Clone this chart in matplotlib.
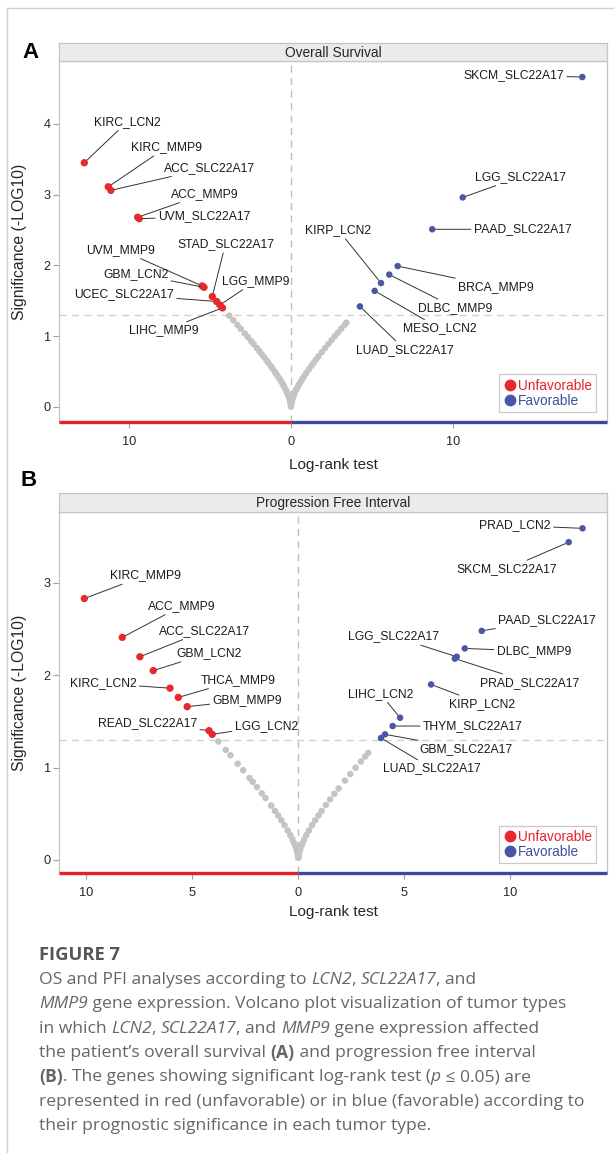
import numpy as np
import matplotlib.pyplot as plt
from matplotlib.lines import Line2D
from matplotlib.ticker import FuncFormatter

# ---------------- Panel A : Overall Survival ----------------
os_unfav_names = ['KIRC_LCN2', 'KIRC_MMP9', 'ACC_SLC22A17', 'ACC_MMP9', 'UVM_SLC22A17',
                  'UVM_MMP9', 'GBM_LCN2', 'STAD_SLC22A17', 'UCEC_SLC22A17', 'LGG_MMP9', 'LIHC_MMP9']
os_unfav_x = [-12.74, -11.26, -11.10, -9.45, -9.35, -5.47, -5.36, -4.85, -4.58, -4.38, -4.22]
os_unfav_y = [3.45, 3.11, 3.06, 2.68, 2.66, 1.71, 1.69, 1.56, 1.49, 1.44, 1.40]

os_fav_names = ['SKCM_SLC22A17', 'LGG_SLC22A17', 'PAAD_SLC22A17', 'BRCA_MMP9', 'DLBC_MMP9',
                'KIRP_LCN2', 'MESO_LCN2', 'LUAD_SLC22A17']
os_fav_x = [17.96, 10.59, 8.71, 6.58, 6.06, 5.55, 5.16, 4.25]
os_fav_y = [4.66, 2.96, 2.51, 1.99, 1.87, 1.75, 1.64, 1.42]

os_ns_x = [-3.8, -3.55, -3.3, -3.1, -2.85, -2.65, -2.45, -2.3, -2.1, -1.95, -1.8, -1.65, -1.5, -1.4,
           -1.25, -1.15, -1.0, -0.9, -0.8, -0.7, -0.6, -0.5, -0.42, -0.35, -0.28, -0.22, -0.16, -0.11,
           -0.07, -0.04, -0.02, -0.01, 0.0, 0.01, 0.02, 0.04, 0.07, 0.1, 0.14, 0.19, 0.25, 0.32, 0.4,
           0.5, 0.6, 0.7, 0.8, 0.95, 1.1, 1.25, 1.4, 1.55, 1.7, 1.9, 2.1, 2.3, 2.5, 2.7, 2.9, 3.1, 3.3, 3.42]
os_ns_y = [1.29, 1.225, 1.159, 1.106, 1.039, 0.985, 0.930, 0.888, 0.832, 0.789, 0.745, 0.701, 0.656, 0.626,
           0.579, 0.547, 0.499, 0.465, 0.430, 0.395, 0.358, 0.319, 0.287, 0.256, 0.224, 0.195, 0.162, 0.131,
           0.102, 0.075, 0.052, 0.036, 0.004, 0.036, 0.052, 0.075, 0.102, 0.124, 0.150, 0.178, 0.210, 0.243, 0.278,
           0.319, 0.358, 0.395, 0.430, 0.482, 0.531, 0.579, 0.626, 0.671, 0.716, 0.774, 0.832, 0.888, 0.943, 0.999,
           1.052, 1.106, 1.159, 1.191]

# label placement (layout)
os_unfav_lab = [(-10.08, 4.03), (-7.66, 3.67), (-5.01, 3.38), (-5.32, 3.01), (-5.35, 2.69), (-10.49, 2.22),
                (-9.57, 1.88), (-4.04, 2.30), (-10.28, 1.59), (-2.17, 1.78), (-7.82, 1.08)]
os_fav_lab = [(13.74, 4.69), (14.14, 3.25), (14.27, 2.51), (12.63, 1.70), (10.13, 1.40), (2.92, 2.50),
              (9.17, 1.11), (7.03, 0.81)]

# ---------------- Panel B : Progression Free Interval ----------------
pfi_unfav_names = ['KIRC_MMP9', 'ACC_MMP9', 'ACC_SLC22A17', 'GBM_LCN2', 'KIRC_LCN2', 'THCA_MMP9',
                   'GBM_MMP9', 'READ_SLC22A17', 'LGG_LCN2']
pfi_unfav_x = [-10.09, -8.30, -7.47, -6.84, -6.05, -5.66, -5.24, -4.21, -4.06]
pfi_unfav_y = [2.83, 2.41, 2.20, 2.05, 1.86, 1.76, 1.66, 1.40, 1.36]

pfi_fav_names = ['PRAD_LCN2', 'SKCM_SLC22A17', 'PAAD_SLC22A17', 'DLBC_MMP9', 'LGG_SLC22A17',
                 'PRAD_SLC22A17', 'KIRP_LCN2', 'LIHC_LCN2', 'THYM_SLC22A17', 'GBM_SLC22A17', 'LUAD_SLC22A17']
pfi_fav_x = [13.40, 12.75, 8.65, 7.85, 7.47, 7.38, 6.26, 4.80, 4.45, 4.09, 3.90]
pfi_fav_y = [3.59, 3.44, 2.48, 2.29, 2.20, 2.18, 1.90, 1.54, 1.45, 1.36, 1.32]

pfi_ns_x = [-3.77, -3.42, -3.2, -2.86, -2.6, -2.3, -2.15, -1.95, -1.72, -1.55, -1.28, -1.1, -0.95, -0.8,
            -0.65, -0.5, -0.38, -0.28, -0.2, -0.14, -0.09, -0.05, -0.02, -0.005, 0.005, 0.02, 0.05, 0.09,
            0.14, 0.2, 0.28, 0.38, 0.5, 0.65, 0.8, 0.95, 1.1, 1.3, 1.5, 1.7, 1.9, 2.2, 2.45, 2.7, 2.95, 3.15, 3.3]
pfi_ns_y = [1.282, 1.191, 1.133, 1.042, 0.971, 0.888, 0.846, 0.789, 0.722, 0.671, 0.589, 0.531, 0.482, 0.430,
            0.377, 0.319, 0.270, 0.224, 0.184, 0.150, 0.117, 0.085, 0.052, 0.025, 0.025, 0.052, 0.085, 0.117,
            0.150, 0.184, 0.224, 0.270, 0.319, 0.377, 0.430, 0.482, 0.531, 0.595, 0.656, 0.716, 0.774, 0.860,
            0.930, 0.999, 1.066, 1.120, 1.159]

pfi_unfav_lab = [(-7.21, 3.08), (-5.50, 2.75), (-4.42, 2.48), (-4.22, 2.24), (-9.20, 1.91), (-2.81, 1.95),
                 (-2.41, 1.73), (-7.11, 1.48), (-1.51, 1.45)]
pfi_fav_lab = [(10.22, 3.62), (9.83, 3.15), (11.70, 2.60), (11.11, 2.26), (4.48, 2.42), (10.91, 1.92),
               (8.67, 1.69), (3.87, 1.80), (8.22, 1.45), (7.92, 1.20), (6.32, 0.99)]

P_CUT = 0.05

RED = '#E8292B'
BLUE = '#4A56A6'
GREY = '#C4C4C4'
FONT = ['Liberation Sans', 'DejaVu Sans']

W, H = 614, 1153
plt.rcParams['font.family'] = FONT
fig = plt.figure(figsize=(W / 100, H / 100), dpi=100)


def px(x0, y0, x1, y1):
    return [x0 / W, 1 - y1 / H, (x1 - x0) / W, (y1 - y0) / H]


def volcano(ax_box, strip_box, title, xlim, ylim, xticks, yticks, ns_x, ns_y,
            ux, uy, unames, ulab, fx, fy, fnames, flab, xlab_off):
    ax = fig.add_axes(px(*ax_box))
    ax.set_xlim(xlim)
    ax.set_ylim(ylim)
    thr = -np.log10(P_CUT)
    ax.axvline(0, color='#BDBDBD', ls=(0, (5, 4)), lw=1.0, zorder=0)
    ax.axhline(thr, color='#CFCFCF', ls=(0, (5, 4)), lw=1.0, zorder=0)

    ax.scatter(ns_x, ns_y, s=22, color=GREY, edgecolors='none', zorder=2)
    ax.scatter(ux, uy, s=28, color=RED, edgecolors='none', zorder=3)
    ax.scatter(fx, fy, s=22, color=BLUE, edgecolors='none', zorder=3)

    for name, x, y, (tx, ty) in zip(unames, ux, uy, ulab):
        ax.annotate(name, xy=(x, y), xytext=(tx, ty), ha='center', va='center', fontsize=8.7,
                    color='#1a1a1a',
                    arrowprops=dict(arrowstyle='-', color='#333333', lw=0.7, shrinkA=0, shrinkB=2.5))
    for name, x, y, (tx, ty) in zip(fnames, fx, fy, flab):
        ax.annotate(name, xy=(x, y), xytext=(tx, ty), ha='center', va='center', fontsize=8.7,
                    color='#1a1a1a',
                    arrowprops=dict(arrowstyle='-', color='#333333', lw=0.7, shrinkA=0, shrinkB=2.5))

    # coloured bottom bar (unfavourable / favourable side)
    ax.plot([xlim[0], 0], [ylim[0], ylim[0]], color='#E3202A', lw=2.4, clip_on=False,
            solid_capstyle='butt', zorder=5)
    ax.plot([0, xlim[1]], [ylim[0], ylim[0]], color='#3B4A9E', lw=2.4, clip_on=False,
            solid_capstyle='butt', zorder=5)

    for s in ['left', 'top', 'right']:
        ax.spines[s].set_color('#C4C4C4')
        ax.spines[s].set_linewidth(0.9)
    ax.spines['bottom'].set_visible(False)
    ax.set_xticks(xticks)
    ax.set_yticks(yticks)
    ax.xaxis.set_major_formatter(FuncFormatter(lambda v, p: '%g' % abs(v)))
    ax.tick_params(axis='both', colors='#A0A0A0', labelcolor='#262626', labelsize=9.2,
                   length=4, width=0.8)
    ax.tick_params(axis='x', pad=6)
    ax.tick_params(axis='y', pad=2)
    ax.set_ylabel('Significance (-LOG10)', fontsize=11.3, color='#262626')
    ax.yaxis.set_label_coords(-0.059, 0.5)
    ax.text(0.5, xlab_off, 'Log-rank test', transform=ax.transAxes, ha='center', va='center',
            fontsize=11, color='#262626')

    h = [Line2D([], [], ls='none', marker='o', ms=7.5, color=RED),
         Line2D([], [], ls='none', marker='o', ms=7.5, color=BLUE)]
    leg = ax.legend(h, ['Unfavorable', 'Favorable'], loc='lower right',
                    bbox_to_anchor=(1 - 11 / 548, 10 / 361), borderaxespad=0, fontsize=9.8,
                    frameon=True, fancybox=False, edgecolor='#BDBDBD', handletextpad=0.1,
                    handlelength=1.0, borderpad=0.3, labelspacing=0.1)
    leg.get_frame().set_linewidth(0.9)
    leg.get_texts()[0].set_color('#E4222A')
    leg.get_texts()[1].set_color('#3F4DA0')

    st = fig.add_axes(px(*strip_box))
    st.set_facecolor('#EBEBEB')
    st.set_xticks([])
    st.set_yticks([])
    for s in st.spines.values():
        s.set_color('#C4C4C4')
        s.set_linewidth(0.9)
    st.text(0.5, 0.45, title, ha='center', va='center', fontsize=9.9, color='#262626',
            transform=st.transAxes)
    return ax


volcano((59.3, 61, 607.3, 422), (59.3, 43, 607.3, 61), 'Overall Survival',
        (-14.28, 19.5), (-0.212, 4.887), [-10, 0, 10], [0, 1, 2, 3, 4],
        os_ns_x, os_ns_y, os_unfav_x, os_unfav_y, os_unfav_names, os_unfav_lab,
        os_fav_x, os_fav_y, os_fav_names, os_fav_lab, -0.12)

volcano((59.3, 511.7, 607.3, 873.3), (59.3, 493, 607.3, 511.7), 'Progression Free Interval',
        (-11.27, 14.57), (-0.144, 3.77), [-10, -5, 0, 5, 10], [0, 1, 2, 3],
        pfi_ns_x, pfi_ns_y, pfi_unfav_x, pfi_unfav_y, pfi_unfav_names, pfi_unfav_lab,
        pfi_fav_x, pfi_fav_y, pfi_fav_names, pfi_fav_lab, -0.108)

fig.text(22 / W, 1 - 53 / H, 'A', fontsize=16, fontweight='bold', va='center', ha='left')
fig.text(20 / W, 1 - 481 / H, 'B', fontsize=16, fontweight='bold', va='center', ha='left')

# page frame lines
fig.add_artist(Line2D([7 / W, 1], [1 - 8 / H, 1 - 8 / H], color='#D0D0D0', lw=1.0))
fig.add_artist(Line2D([7 / W, 7 / W], [0, 1 - 8 / H], color='#D0D0D0', lw=1.0))

# caption
CAP = ['Open Sans', 'DejaVu Sans']
cap_col = '#666666'
fig.text(39 / W, 1 - 955 / H, 'FIGURE 7', fontsize=13.2, fontweight='bold', color='#555555',
         family=CAP, va='center', ha='left')

caption = [
    [('OS and PFI analyses according to ', 'n'), ('LCN2', 'i'), (', ', 'n'), ('SCL22A17', 'i'), (', and', 'n')],
    [('MMP9', 'i'), (' gene expression. Volcano plot visualization of tumor types', 'n')],
    [('in which ', 'n'), ('LCN2', 'i'), (', ', 'n'), ('SCL22A17', 'i'), (', and ', 'n'), ('MMP9', 'i'),
     (' gene expression affected', 'n')],
    [('the patient\u2019s overall survival ', 'n'), ('(A)', 'b'), (' and progression free interval', 'n')],
    [('(B)', 'b'), ('. The genes showing significant log-rank test (', 'n'), ('p', 'i'),
     (' \u2264 0.05) are', 'n')],
    [('represented in red (unfavorable) or in blue (favorable) according to', 'n')],
    [('their prognostic significance in each tumor type.', 'n')],
]

r = fig.canvas.get_renderer()
y0 = 980
for i, line in enumerate(caption):
    x = 39
    for txt, sty in line:
        t = fig.text(x / W, 1 - (y0 + i * 24.3) / H, txt, fontsize=12.6, color=cap_col, family=CAP,
                     style='italic' if sty == 'i' else 'normal',
                     fontweight='bold' if sty == 'b' else 'normal', va='center', ha='left')
        x += t.get_window_extent(renderer=r).width

fig.savefig('out.png', dpi=100)
